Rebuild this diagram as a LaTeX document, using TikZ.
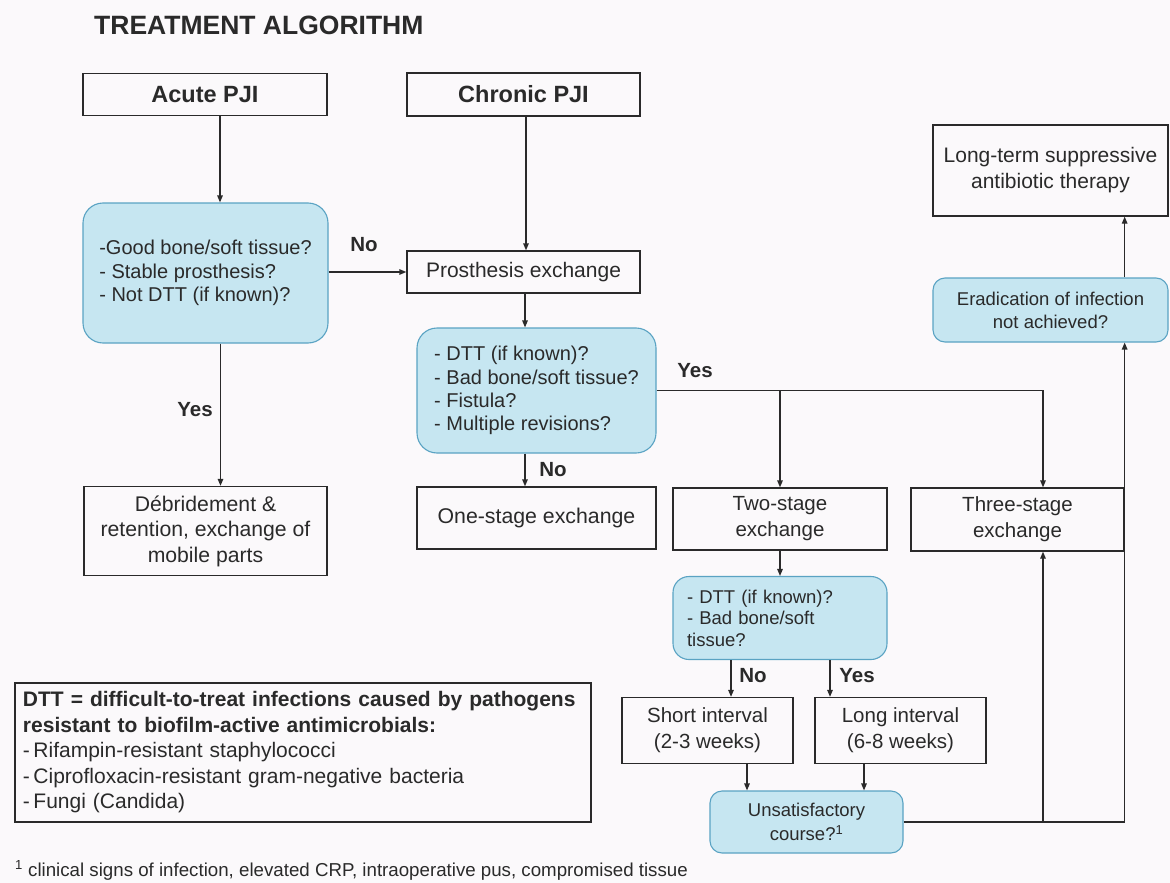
\documentclass[tikz,border=0pt]{standalone}
\usepackage{fontspec}
\setmainfont{Liberation Sans}
\usepackage{tikz}
\usetikzlibrary{arrows.meta,positioning,calc}
\definecolor{Ink}{HTML}{2A2A2A}
\definecolor{Paper}{HTML}{FBF9FB}
\definecolor{QFill}{HTML}{C6E6F1}
\definecolor{QEdge}{HTML}{5AA3C3}

\begin{document}
\begin{tikzpicture}[x=1pt, y=-1pt, font=\fontsize{20.5}{26}\selectfont, text=Ink, >={Triangle[length=7pt,width=5.5pt]}]
\tikzset{b/.style={draw=Ink, line width=1.3pt, align=center, inner sep=0pt}, q/.style={b, draw=QEdge, fill=QFill, line width=1.1pt, rounded corners=20pt}, sm/.style={font=\fontsize{18.5}{23}\selectfont}, lbl/.style={font=\fontsize{20.5}{24}\selectfont\bfseries, inner sep=0pt}, ln/.style={draw=Ink, line width=1.3pt}}
\fill[Paper] (0,0) rectangle (1170,883);
\useasboundingbox (0,0) rectangle (1170,883);
\node[anchor=base west, inner sep=0pt, font=\fontsize{26.5}{30}\selectfont\bfseries] (title) at (94,35) {TREATMENT ALGORITHM};
% top row
\node[b, minimum width=244pt, minimum height=42pt, font=\fontsize{23.5}{26}\selectfont\bfseries] (acute) at (205,94.5) {Acute PJI};
\node[b, minimum width=233pt, minimum height=43pt, font=\fontsize{23.5}{26}\selectfont\bfseries] (chronic) at (523.5,94.5) {Chronic PJI};
\node[b, minimum width=235pt, minimum height=91pt, font=\fontsize{21}{26}\selectfont] (longterm) at (1050.5,170.5) {Long-term suppressive\\antibiotic therapy};
% questions and steps
\node[q, minimum width=245pt, minimum height=140pt, align=left, font=\fontsize{20}{23.5}\selectfont] (acuteq) at (205.5,273) {-Good bone/soft tissue?\\- Stable prosthesis?\\- Not DTT (if known)?};
\node[b, minimum width=233pt, minimum height=42pt, font=\fontsize{21}{26}\selectfont] (prosth) at (523.5,272) {Prosthesis exchange};
\node[q, sm, rounded corners=12pt, minimum width=235pt, minimum height=64pt] (erad) at (1050.5,310) {Eradication of infection\\not achieved?};
\node[q, minimum width=239pt, minimum height=125pt, align=left, font=\fontsize{20}{23.3}\selectfont] (chronq) at (536.5,390.5) {- DTT (if known)?\\- Bad bone/soft tissue?\\- Fistula?\\- Multiple revisions?};
\node[b, minimum width=243pt, minimum height=89pt, font=\fontsize{21.2}{25.5}\selectfont] (retain) at (205.5,531) {Débridement \&\\retention, exchange of\\mobile parts};
\node[b, minimum width=239pt, minimum height=62pt, font=\fontsize{21.3}{26}\selectfont] (one) at (536.5,518) {One-stage exchange};
\node[b, minimum width=214pt, minimum height=62pt] (two) at (780,519) {Two-stage\\exchange};
\node[b, minimum width=213pt, minimum height=63pt] (three) at (1017.5,519.5) {Three-stage\\exchange};
\node[q, rounded corners=16pt, minimum width=214pt, minimum height=83pt, align=left, text width=186pt, font=\fontsize{18.5}{21.5}\selectfont] (twoq) at (780,618) {- DTT (if known)?\\- Bad bone/soft\\tissue?};
\node[b, minimum width=171pt, minimum height=66pt, font=\fontsize{20.5}{26}\selectfont] (short) at (707.5,730.5) {Short interval\\(2-3 weeks)};
\node[b, minimum width=171pt, minimum height=66pt, font=\fontsize{20.5}{26}\selectfont] (long) at (900.5,730.5) {Long interval\\(6-8 weeks)};
\node[q, rounded corners=12pt, minimum width=193pt, minimum height=62pt, font=\fontsize{18.5}{24}\selectfont] (unsat) at (806.5,822) {Unsatisfactory\\course?\textsuperscript{1}};
% legend and footnote
\node[b, line width=1.1pt, minimum width=576pt, minimum height=139pt, align=left, text width=560pt, font=\fontsize{21}{25.5}\selectfont] (dtt) at (303,752.5) {\textbf{DTT = difficult-to-treat infections caused by pathogens}\\\textbf{resistant to biofilm-active antimicrobials:}\\-\,Rifampin-resistant staphylococci\\-\,Ciprofloxacin-resistant gram-negative bacteria\\-\,Fungi (Candida)};
\node[anchor=base west, inner sep=0pt, font=\fontsize{18.7}{22}\selectfont] (note) at (15,876) {\textsuperscript{1} clinical signs of infection, elevated CRP, intraoperative pus, compromised tissue};
% connectors
\draw[ln,->] ([xshift=15pt]acute.south) -- ([xshift=15pt]acute.south |- acuteq.north);
\draw[ln,->] (acuteq.east |- prosth.west) -- (prosth.west);
\node[lbl] (no1) at (364,245) {No};
\draw[ln,->] ([xshift=15pt]acuteq.south) -- ([xshift=15pt]acuteq.south |- retain.north);
\node[lbl] (yes1) at (195,410) {Yes};
\draw[ln,->] ([xshift=2.5pt]chronic.south) -- ([xshift=2.5pt]prosth.north);
\draw[ln,->] ([xshift=1.5pt]prosth.south) -- ([xshift=1.5pt]prosth.south |- chronq.north);
\draw[ln,->] ([xshift=1.5pt]prosth.south |- chronq.south) -- ([xshift=1.5pt]prosth.south |- one.north);
\node[lbl] (no2) at (553,470) {No};
\coordinate (ybend) at ([xshift=25.5pt]three.north |- chronq.east);
\draw[ln,->] (chronq.east) -- (ybend) -- ([xshift=25.5pt]three.north);
\draw[ln,->] (two.north |- chronq.east) -- (two.north);
\node[lbl] (yes2) at (695,371) {Yes};
\draw[ln,->] (two.south) -- (twoq.north);
\draw[ln,->] ([xshift=-49pt]twoq.south) -- ([xshift=-49pt]twoq.south |- short.north);
\node[lbl] (no3) at (753,676) {No};
\draw[ln,->] ([xshift=50pt]twoq.south) -- ([xshift=50pt]twoq.south |- long.north);
\node[lbl] (yes3) at (857,676) {Yes};
\draw[ln,->] ([xshift=39.5pt]short.south) -- ([xshift=39.5pt]short.south |- unsat.north);
\draw[ln,->] ([xshift=-36.5pt]long.south) -- ([xshift=-36.5pt]long.south |- unsat.north);
\coordinate (loopend) at (three.east |- unsat.east);
\draw[ln] (unsat.east) -- (loopend);
\draw[ln,->] ([xshift=25.5pt]three.south |- unsat.east) -- ([xshift=25.5pt]three.south);
\draw[ln,->] (loopend) -- (three.east |- erad.south);
\draw[ln,->] (three.east |- erad.north) -- (three.east |- longterm.south);
\end{tikzpicture}
\end{document}
